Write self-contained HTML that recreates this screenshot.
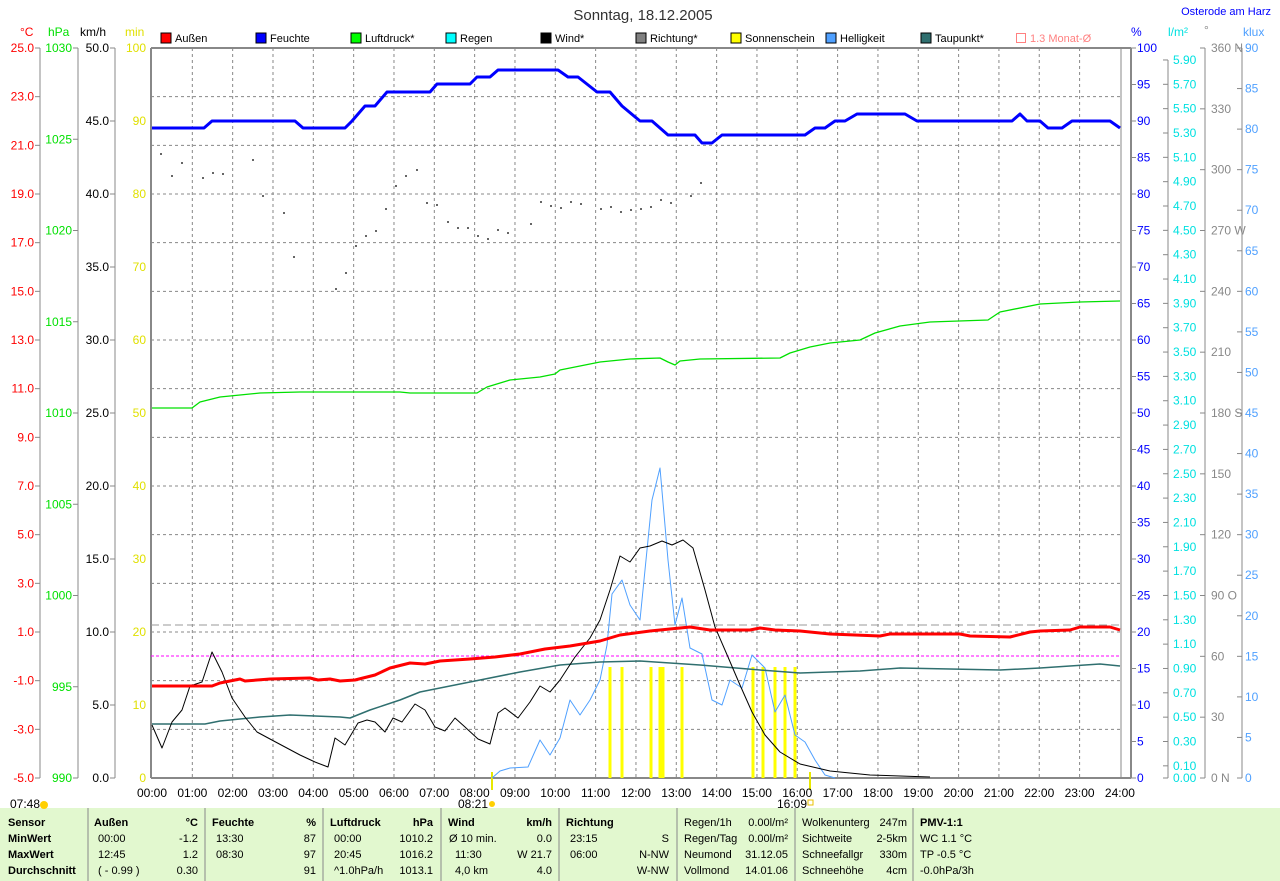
<!DOCTYPE html>
<html><head><meta charset="utf-8"><style>
body{margin:0;background:#fff;width:1280px;height:881px;overflow:hidden;font-family:"Liberation Sans",sans-serif}
svg{display:block}
text{font-family:"Liberation Sans",sans-serif;font-size:12px}
text.s{font-size:11px}
</style></head><body>
<svg id="s" width="1280" height="881" xmlns="http://www.w3.org/2000/svg">
<rect x="0" y="808" width="1280" height="73" fill="#e2f8cf"/>
<text x="643" y="20" text-anchor="middle" style="font-size:15px" fill="#333">Sonntag, 18.12.2005</text>
<text x="1271" y="15" text-anchor="end" fill="#0000ff" style="font-size:11px">Osterode am Harz</text>
</svg>
<script>
const S=document.getElementById('s');const NS='http://www.w3.org/2000/svg';
function el(t,a,txt){const e=document.createElementNS(NS,t);for(const k in a)e.setAttribute(k,a[k]);if(txt!==undefined)e.textContent=txt;S.appendChild(e);return e;}
function line(x1,y1,x2,y2,c,w,d){const a={x1,y1,x2,y2,stroke:c,'stroke-width':w||1};if(d)a['stroke-dasharray']=d;el('line',a);}
function txt(x,y,t,c,anc,extra){const a={x,y,fill:c||'#000','text-anchor':anc||'start'};if(extra)Object.assign(a,extra);el('text',a,t);}
function poly(pts,c,w){el('polyline',{points:pts.map(p=>p.join(',')).join(' '),fill:'none',stroke:c,'stroke-width':w||1,'stroke-linejoin':'round'});}
const T=48,B=778,L=151,R=1121;
for(let i=1;i<15;i++){const y=T+i*730/15;line(L,y,R,y,'#888',1,'3,3');}
for(let h=1;h<24;h++){const x=152+h*40.33;line(x,T,x,B,'#888',1,'3,3');}
line(L,T,1131,T,'#888',2);line(L,T,L,B,'#888',2);line(1131,T,1131,B,'#888',2);line(L,B,1131,B,'#888',2);line(R,T,R,B,'#888',1);
txt(20,36,'°C','#ff0000');txt(48,36,'hPa','#00e000');txt(80,36,'km/h','#000');txt(125,36,'min','#e0e000');
txt(1131,36,'%','#0000ff');txt(1168,36,'l/m²','#00e0e0');txt(1204,34,'°','#888');txt(1243,36,'klux','#4fa0ff');
line(40,T,40,B,'#888');line(78,T,78,B,'#888');line(115,T,115,B,'#888');
for(let i=0;i<=15;i++){const y=T+i*730/15,v=25-2*i;line(35,y,40,y,'#888');txt(34,y+4,v.toFixed(1),'#ff0000','end');}
for(let i=0;i<=8;i++){const y=T+i*730/8;line(73,y,78,y,'#888');txt(72,y+4,String(1030-5*i),'#00e000','end');}
for(let i=0;i<=10;i++){const y=T+i*73;line(110,y,115,y,'#888');txt(109,y+4,(50-5*i).toFixed(1),'#000','end');}
for(let i=0;i<=10;i++){const y=T+i*73;txt(146,y+4,String(100-10*i),'#e0e000','end');}
for(let i=0;i<=20;i++){const y=T+i*36.5;line(1131,y,1136,y,'#888');txt(1137,y+4,String(100-5*i),'#0000ff');}
line(1168,60,1168,B,'#888');
for(let v=5.9;v>0.05;v-=0.2){const y=B-v*121.7;line(1163,y,1168,y,'#888');txt(1173,y+4,v.toFixed(2),'#00e0e0');}
line(1163,B,1168,B,'#888');txt(1173,B+4,'0.00','#00e0e0');
line(1205,T,1205,B,'#888');
const dl={360:' N',270:' W',180:' S',90:' O',0:' N'};
for(let i=0;i<=12;i++){const y=T+i*730/12,v=360-30*i;line(1200,y,1205,y,'#888');txt(1211,y+4,v+(dl[v]||''),'#888');}
line(1242,T,1242,B,'#888');
for(let i=0;i<=18;i++){const y=T+i*730/18;line(1237,y,1242,y,'#888');txt(1245,y+4,String(90-5*i),'#4fa0ff');}
const lg=[['Außen','#ff0000'],['Feuchte','#0000ff'],['Luftdruck*','#00ff00'],['Regen','#00ffff'],['Wind*','#000'],['Richtung*','#808080'],['Sonnenschein','#ffff00'],['Helligkeit','#4fa0ff'],['Taupunkt*','#2f6f6f']];
lg.forEach((g,i)=>{const x=161+i*95;el('rect',{x,y:33,width:10,height:10,fill:g[1],stroke:'#000'});txt(x+14,42,g[0],'#000','start',{class:'s'});});
el('rect',{x:1016.5,y:33.5,width:9,height:9,fill:'none',stroke:'#ff8080'});txt(1030,42,'1.3 Monat-Ø','#ff8080','start',{class:'s'});
line(L,625,R,625,'#999',1,'8,4');line(L,656,R,656,'#ff00ff',1,'3,2');
[610,622,651,660,663,682,753,763,775,785,795].forEach(x=>line(x,667,x,778,'#ffff00',3));
line(492,772,492,790,'#e8e800',2);line(810,772,810,790,'#e8e800',2);
poly([[492,778],[500,771],[510,768],[528,767],[540,740],[550,755],[560,738],[570,700],[580,715],[590,700],[600,680],[607,645],[612,594],[622,580],[630,605],[640,620],[652,500],[660,468],[668,560],[675,625],[682,598],[690,648],[702,654],[712,700],[722,705],[730,680],[742,688],[752,655],[765,668],[775,712],[785,695],[795,735],[805,742],[815,760],[825,775],[835,778]],'#4fa0ff',1);
poly([[152,724],[205,724],[220,721],[260,717],[290,715],[340,717],[350,718],[370,710],[400,700],[420,692],[450,686],[480,680],[520,672],[560,665],[600,662],[640,661],[700,665],[760,670],[800,673],[860,671],[900,668],[1000,670],[1040,668],[1100,664],[1120,666]],'#2f6f6f',1.5);
poly([[152,725],[162,748],[172,722],[182,710],[190,686],[202,682],[212,652],[222,672],[232,698],[245,717],[257,732],[270,739],[285,747],[300,755],[315,762],[328,767],[335,738],[345,745],[358,723],[367,720],[375,722],[385,732],[393,718],[402,722],[415,704],[425,710],[435,727],[445,731],[455,718],[465,727],[478,739],[490,744],[498,713],[505,708],[518,718],[530,702],[540,686],[550,692],[560,680],[575,657],[590,638],[600,620],[610,590],[620,556],[630,562],[640,548],[650,546],[662,541],[672,545],[683,540],[693,548],[705,590],[715,627],[728,657],[740,685],[752,712],[765,735],[780,752],[800,764],[830,771],[870,775],[930,777]],'#000',1);
poly([[152,408],[192,408],[200,402],[220,397],[260,393],[300,392],[400,392],[410,393],[477,393],[487,387],[510,380],[540,377],[555,374],[560,370],[600,362],[630,359],[660,358],[668,362],[675,365],[680,361],[700,359],[780,358],[790,353],[810,347],[830,343],[860,340],[875,333],[900,326],[930,322],[988,320],[1000,312],[1040,304],[1080,302],[1120,301]],'#00e000',1.3);
poly([[152,686],[212,686],[220,683],[240,679],[245,681],[270,679],[310,678],[318,680],[330,679],[340,681],[355,680],[375,675],[390,668],[410,663],[425,664],[440,661],[470,659],[495,657],[520,654],[545,649],[570,646],[600,641],[620,635],[650,631],[670,629],[690,627],[710,630],[750,630],[760,628],[775,630],[800,631],[830,634],[880,636],[890,634],[960,634],[970,636],[1010,637],[1030,632],[1040,631],[1070,630],[1080,627],[1110,627],[1120,630]],'#ff0000',3);
poly([[152,128],[204,128],[212,121],[295,121],[303,128],[345,128],[352,121],[365,106],[375,106],[387,92],[430,92],[437,84],[470,84],[477,77],[490,77],[498,70],[558,70],[568,77],[578,77],[597,92],[610,92],[622,106],[640,121],[652,121],[668,135],[695,135],[702,143],[712,143],[722,135],[805,135],[815,128],[825,128],[835,121],[845,121],[857,114],[905,114],[917,121],[1012,121],[1020,114],[1027,121],[1040,121],[1048,128],[1062,128],[1072,121],[1110,121],[1120,128]],'#0000ff',3);
[[160,153],[171,175],[181,162],[202,177],[212,172],[222,173],[252,159],[262,195],[283,212],[293,256],[335,288],[345,272],[355,245],[365,235],[375,230],[385,208],[395,185],[405,175],[416,169],[426,202],[436,204],[447,221],[457,227],[467,227],[477,235],[487,238],[497,229],[507,232],[530,223],[540,201],[550,205],[560,207],[570,201],[580,203],[600,208],[610,206],[620,211],[630,209],[640,208],[650,206],[660,199],[670,202],[690,195],[700,182]].forEach(p=>el('rect',{x:p[0],y:p[1],width:2,height:2,fill:'#666'}));
for(let h=0;h<=24;h++){const x=152+h*40.33;txt(x,797,(h<10?'0':'')+h+':00','#000','middle');}
txt(10,808,'07:48','#000');el('circle',{cx:44,cy:805,r:4,fill:'#ffd000'});
txt(458,808,'08:21','#000');el('circle',{cx:492,cy:804,r:3,fill:'#ffd000'});
txt(777,808,'16:09','#000');el('rect',{x:808,y:800,width:5,height:5,fill:'none',stroke:'#e8c000'});
[88,205,323,441,559,677,795,913].forEach(x=>line(x,808,x,881,'#888',1));
const rows=[822,838,854,870];
const b={'font-weight':'bold',class:'s'};const n={class:'s'};
txt(8,rows[0]+4,'Sensor','#000','start',b);txt(8,rows[1]+4,'MinWert','#000','start',b);txt(8,rows[2]+4,'MaxWert','#000','start',b);txt(8,rows[3]+4,'Durchschnitt','#000','start',b);
function col(x,xr,h,hu,a){txt(x,rows[0]+4,h,'#000','start',b);txt(xr,rows[0]+4,hu,'#000','end',b);a.forEach((r,i)=>{if(r[0])txt(x+4,rows[i+1]+4,r[0],'#000','start',n);if(r[1])txt(xr,rows[i+1]+4,r[1],'#000','end',n);});}
col(94,198,'Außen','°C',[['00:00','-1.2'],['12:45','1.2'],['( - 0.99 )','0.30']]);
col(212,316,'Feuchte','%',[['13:30','87'],['08:30','97'],['','91']]);
col(330,433,'Luftdruck','hPa',[['00:00','1010.2'],['20:45','1016.2'],['^1.0hPa/h','1013.1']]);
txt(448,rows[0]+4,'Wind','#000','start',b);txt(552,rows[0]+4,'km/h','#000','end',b);
txt(449,rows[1]+4,'Ø 10 min.','#000','start',n);txt(552,rows[1]+4,'0.0','#000','end',n);txt(455,rows[2]+4,'11:30','#000','start',n);txt(552,rows[2]+4,'W 21.7','#000','end',n);txt(455,rows[3]+4,'4,0 km','#000','start',n);txt(552,rows[3]+4,'4.0','#000','end',n);
txt(566,rows[0]+4,'Richtung','#000','start',b);txt(570,rows[1]+4,'23:15','#000','start',n);txt(669,rows[1]+4,'S','#000','end',n);txt(570,rows[2]+4,'06:00','#000','start',n);txt(669,rows[2]+4,'N-NW','#000','end',n);txt(669,rows[3]+4,'W-NW','#000','end',n);
[['Regen/1h','0.00l/m²'],['Regen/Tag','0.00l/m²'],['Neumond','31.12.05'],['Vollmond','14.01.06']].forEach((r,i)=>{txt(684,rows[i]+4,r[0],'#000','start',n);txt(788,rows[i]+4,r[1],'#000','end',n);});
[['Wolkenunterg','247m'],['Sichtweite','2-5km'],['Schneefallgr','330m'],['Schneehöhe','4cm']].forEach((r,i)=>{txt(802,rows[i]+4,r[0],'#000','start',n);txt(907,rows[i]+4,r[1],'#000','end',n);});
txt(920,rows[0]+4,'PMV-1:1','#000','start',b);txt(920,rows[1]+4,'WC 1.1 °C','#000','start',n);txt(920,rows[2]+4,'TP -0.5 °C','#000','start',n);txt(920,rows[3]+4,'-0.0hPa/3h','#000','start',n);
</script>
</body></html>
